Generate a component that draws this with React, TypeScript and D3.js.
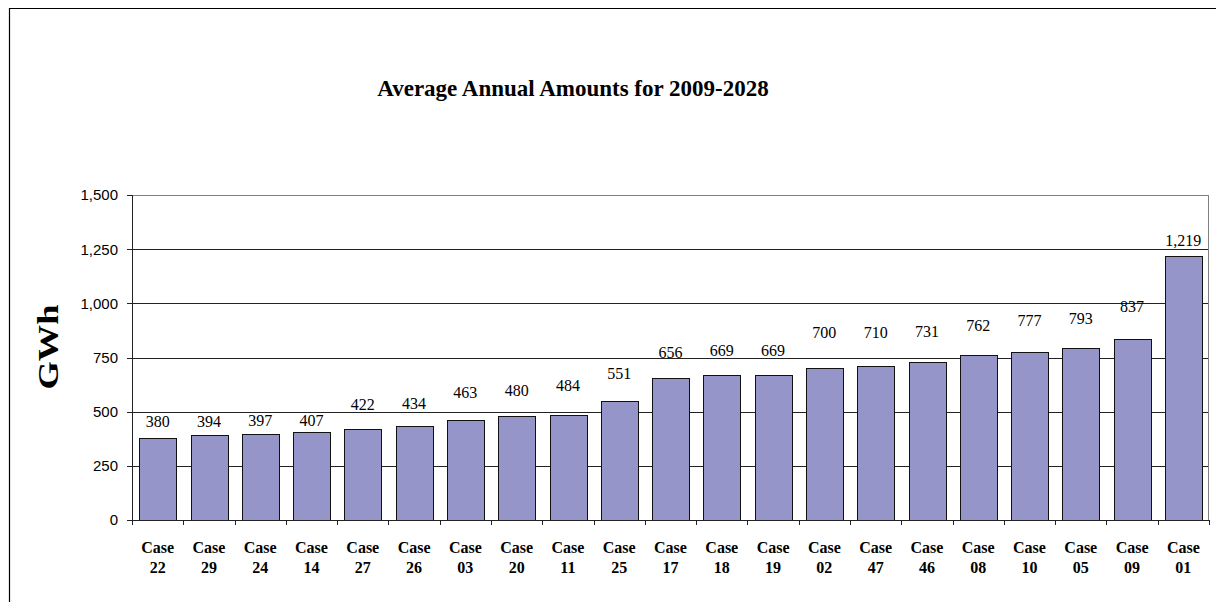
import React from "react";
import * as d3 from "d3";

const categories = ["22","29","24","14","27","26","03","20","11","25","17","18","19","02","47","46","08","10","05","09","01"];
const values = [380,394,397,407,422,434,463,480,484,551,656,669,669,700,710,731,762,777,793,837,1219];
const yTicks = [0,250,500,750,1000,1250,1500];
const title = "Average Annual Amounts for 2009-2028";
const yTitle = "GWh";

// Pixel lift of each value label above its bar (labels were hand-placed in the source)
const labelLift = [16,13,14,11,24,23,27,26,30,27,25,25,25,36,34,30,30,31,30,32,15];

const W = 1216, H = 602;
const left = 132, right = 1209, top = 195, bottom = 520;
const serif = "'Liberation Serif', 'Times New Roman', Times, serif";

export default function App() {
  const x = d3.scaleBand<string>().domain(categories.map((c, i) => String(i))).range([left, right])
    .paddingInner(0.4 / 1.4).paddingOuter(0.2 / 1.4);
  const y = d3.scaleLinear().domain([0, 1500]).range([bottom, top]);
  const step = x.step();
  const fmt = d3.format(",");
  return (
    <svg width={W} height={H} style={{ position: "fixed", left: 0, top: 0, background: "#fff" }}>
      <rect x={0} y={0} width={W} height={H} fill="#fff" />
      <path d={`M9.5,${H + 2}V8.5H${W + 2}`} fill="none" stroke="#000" strokeWidth={1.2} />
      <text x={573} y={96} textAnchor="middle" fontFamily={serif} fontWeight="bold" fontSize={23}>{title}</text>
      {yTicks.map(t => (
        <g key={t}>
          {t > 0 && <line x1={left} x2={right} y1={Math.round(y(t)) + 0.5} y2={Math.round(y(t)) + 0.5} stroke={t === 1500 ? "#808080" : "#222"} strokeWidth={1} />}
          <line x1={left - 5} x2={left} y1={Math.round(y(t)) + 0.5} y2={Math.round(y(t)) + 0.5} stroke="#222" />
          <text x={118} y={y(t)} dy="0.36em" textAnchor="end" fontFamily="'Liberation Sans', Arial, sans-serif" fontSize={15}>{fmt(t)}</text>
        </g>
      ))}
      <line x1={right - 0.5} x2={right - 0.5} y1={top} y2={bottom} stroke="#808080" />
      {values.map((v, i) => {
        const bx = x(String(i))!;
        return (
          <g key={i}>
            <rect x={Math.round(bx) + 0.5} y={Math.round(y(v)) + 0.5} width={Math.round(x.bandwidth())} height={Math.round(y(0)) - Math.round(y(v))}
              fill="#9595C9" stroke="#111" strokeWidth={1} />
            <text x={bx + x.bandwidth() / 2} y={y(v) - labelLift[i]} dy="0.35em" textAnchor="middle"
              fontFamily={serif} fontSize={16}>{fmt(v)}</text>
            <text x={bx + x.bandwidth() / 2} y={547} dy="0.35em" textAnchor="middle"
              fontFamily={serif} fontWeight="bold" fontSize={16}>Case</text>
            <text x={bx + x.bandwidth() / 2} y={567} dy="0.35em" textAnchor="middle"
              fontFamily={serif} fontWeight="bold" fontSize={16}>{categories[i]}</text>
          </g>
        );
      })}
      {d3.range(categories.length + 1).map(k => {
        const tx = Math.round(left + k * step) + 0.5;
        return <line key={k} x1={tx} x2={tx} y1={bottom} y2={bottom + 5} stroke="#222" />;
      })}
      <line x1={left + 0.5} x2={left + 0.5} y1={top} y2={bottom} stroke="#222" />
      <line x1={left} x2={right} y1={Math.round(y(0)) + 0.5} y2={Math.round(y(0)) + 0.5} stroke="#222" />
      <text transform={`translate(58,347) rotate(-90)`} textAnchor="middle" fontFamily={serif}
        fontWeight="bold" fontSize={30} textLength={85} lengthAdjust="spacingAndGlyphs">{yTitle}</text>
    </svg>
  );
}
